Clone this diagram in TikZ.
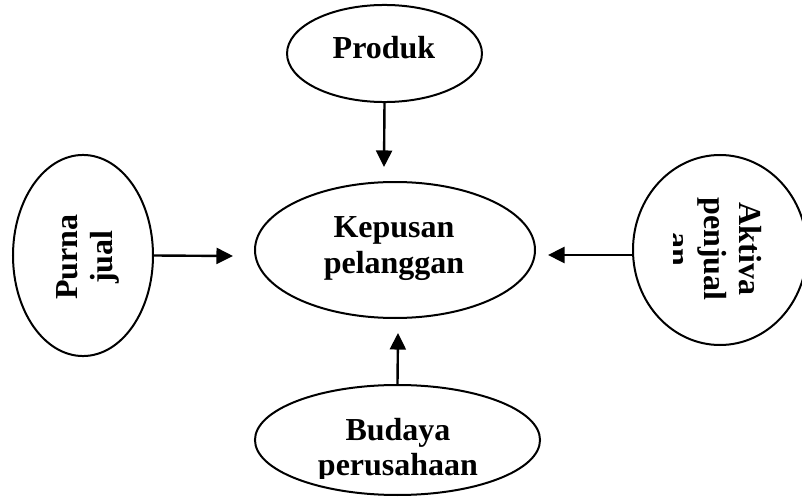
\documentclass[tikz,border=0pt]{standalone}
\usepackage{fontspec}
\setmainfont{Liberation Serif}
\usetikzlibrary{shapes.geometric,arrows.meta,positioning}

\begin{document}
\begin{tikzpicture}[
    x=0.375pt, y=-0.375pt,
    bubble/.style={ellipse, draw, line width=0.75pt, inner sep=0pt},
    lbl/.style={font=\fontsize{12}{13.3}\selectfont\bfseries, align=center, inner sep=0pt},
    link/.style={-{Triangle[length=6.2pt,width=6pt]}, line width=0.9pt}
]
\clip (0,0) rectangle (802,503);

% Ellipses
\node[bubble, minimum width=73.1pt, minimum height=36.4pt] (produk) at (384.5,53.5) {};
\node[bubble, minimum width=105pt, minimum height=51pt] (kepuasan) at (395,250) {};
\node[bubble, minimum width=52.5pt, minimum height=75.4pt] (purna) at (83,255.5) {};
\node[bubble, minimum width=65.25pt, minimum height=71.25pt] (aktiva) at (720,250) {};
\node[bubble, minimum width=106.9pt, minimum height=41.25pt] (budaya) at (397.5,440) {};

% Labels
\node[lbl] (produkText) at (384,47.5) {Produk};
\node[lbl] (kepuasanText) at (394,248.5) {Kepusan\\pelanggan};
\node[lbl, rotate=90] (purnaText) at (88,257) {Purna\\jual};
\begin{scope}
  \clip (673,150) rectangle (802,350);
  \node[lbl, rotate=-90] (aktivaText) at (715,249) {Aktiva\\penjual\\an};
\end{scope}
\begin{scope}
  \clip (250,380) rectangle (550,478);
  \node[lbl] (budayaText) at (398,450.5) {Budaya\\perusahaan};
\end{scope}

% Arrow tips
\coordinate (tipTop) at (384,167);
\coordinate (tipLeft) at (233,256);
\coordinate (tipRight) at (548,255);
\coordinate (tipBottom) at (398,333);

% Arrows
\draw[link] (produk.south) -- (tipTop);
\draw[link] (purna.east) -- (tipLeft);
\draw[link] (aktiva.west |- tipRight) -- (tipRight);
\draw[link] (budaya.north) -- (tipBottom);

\end{tikzpicture}
\end{document}
